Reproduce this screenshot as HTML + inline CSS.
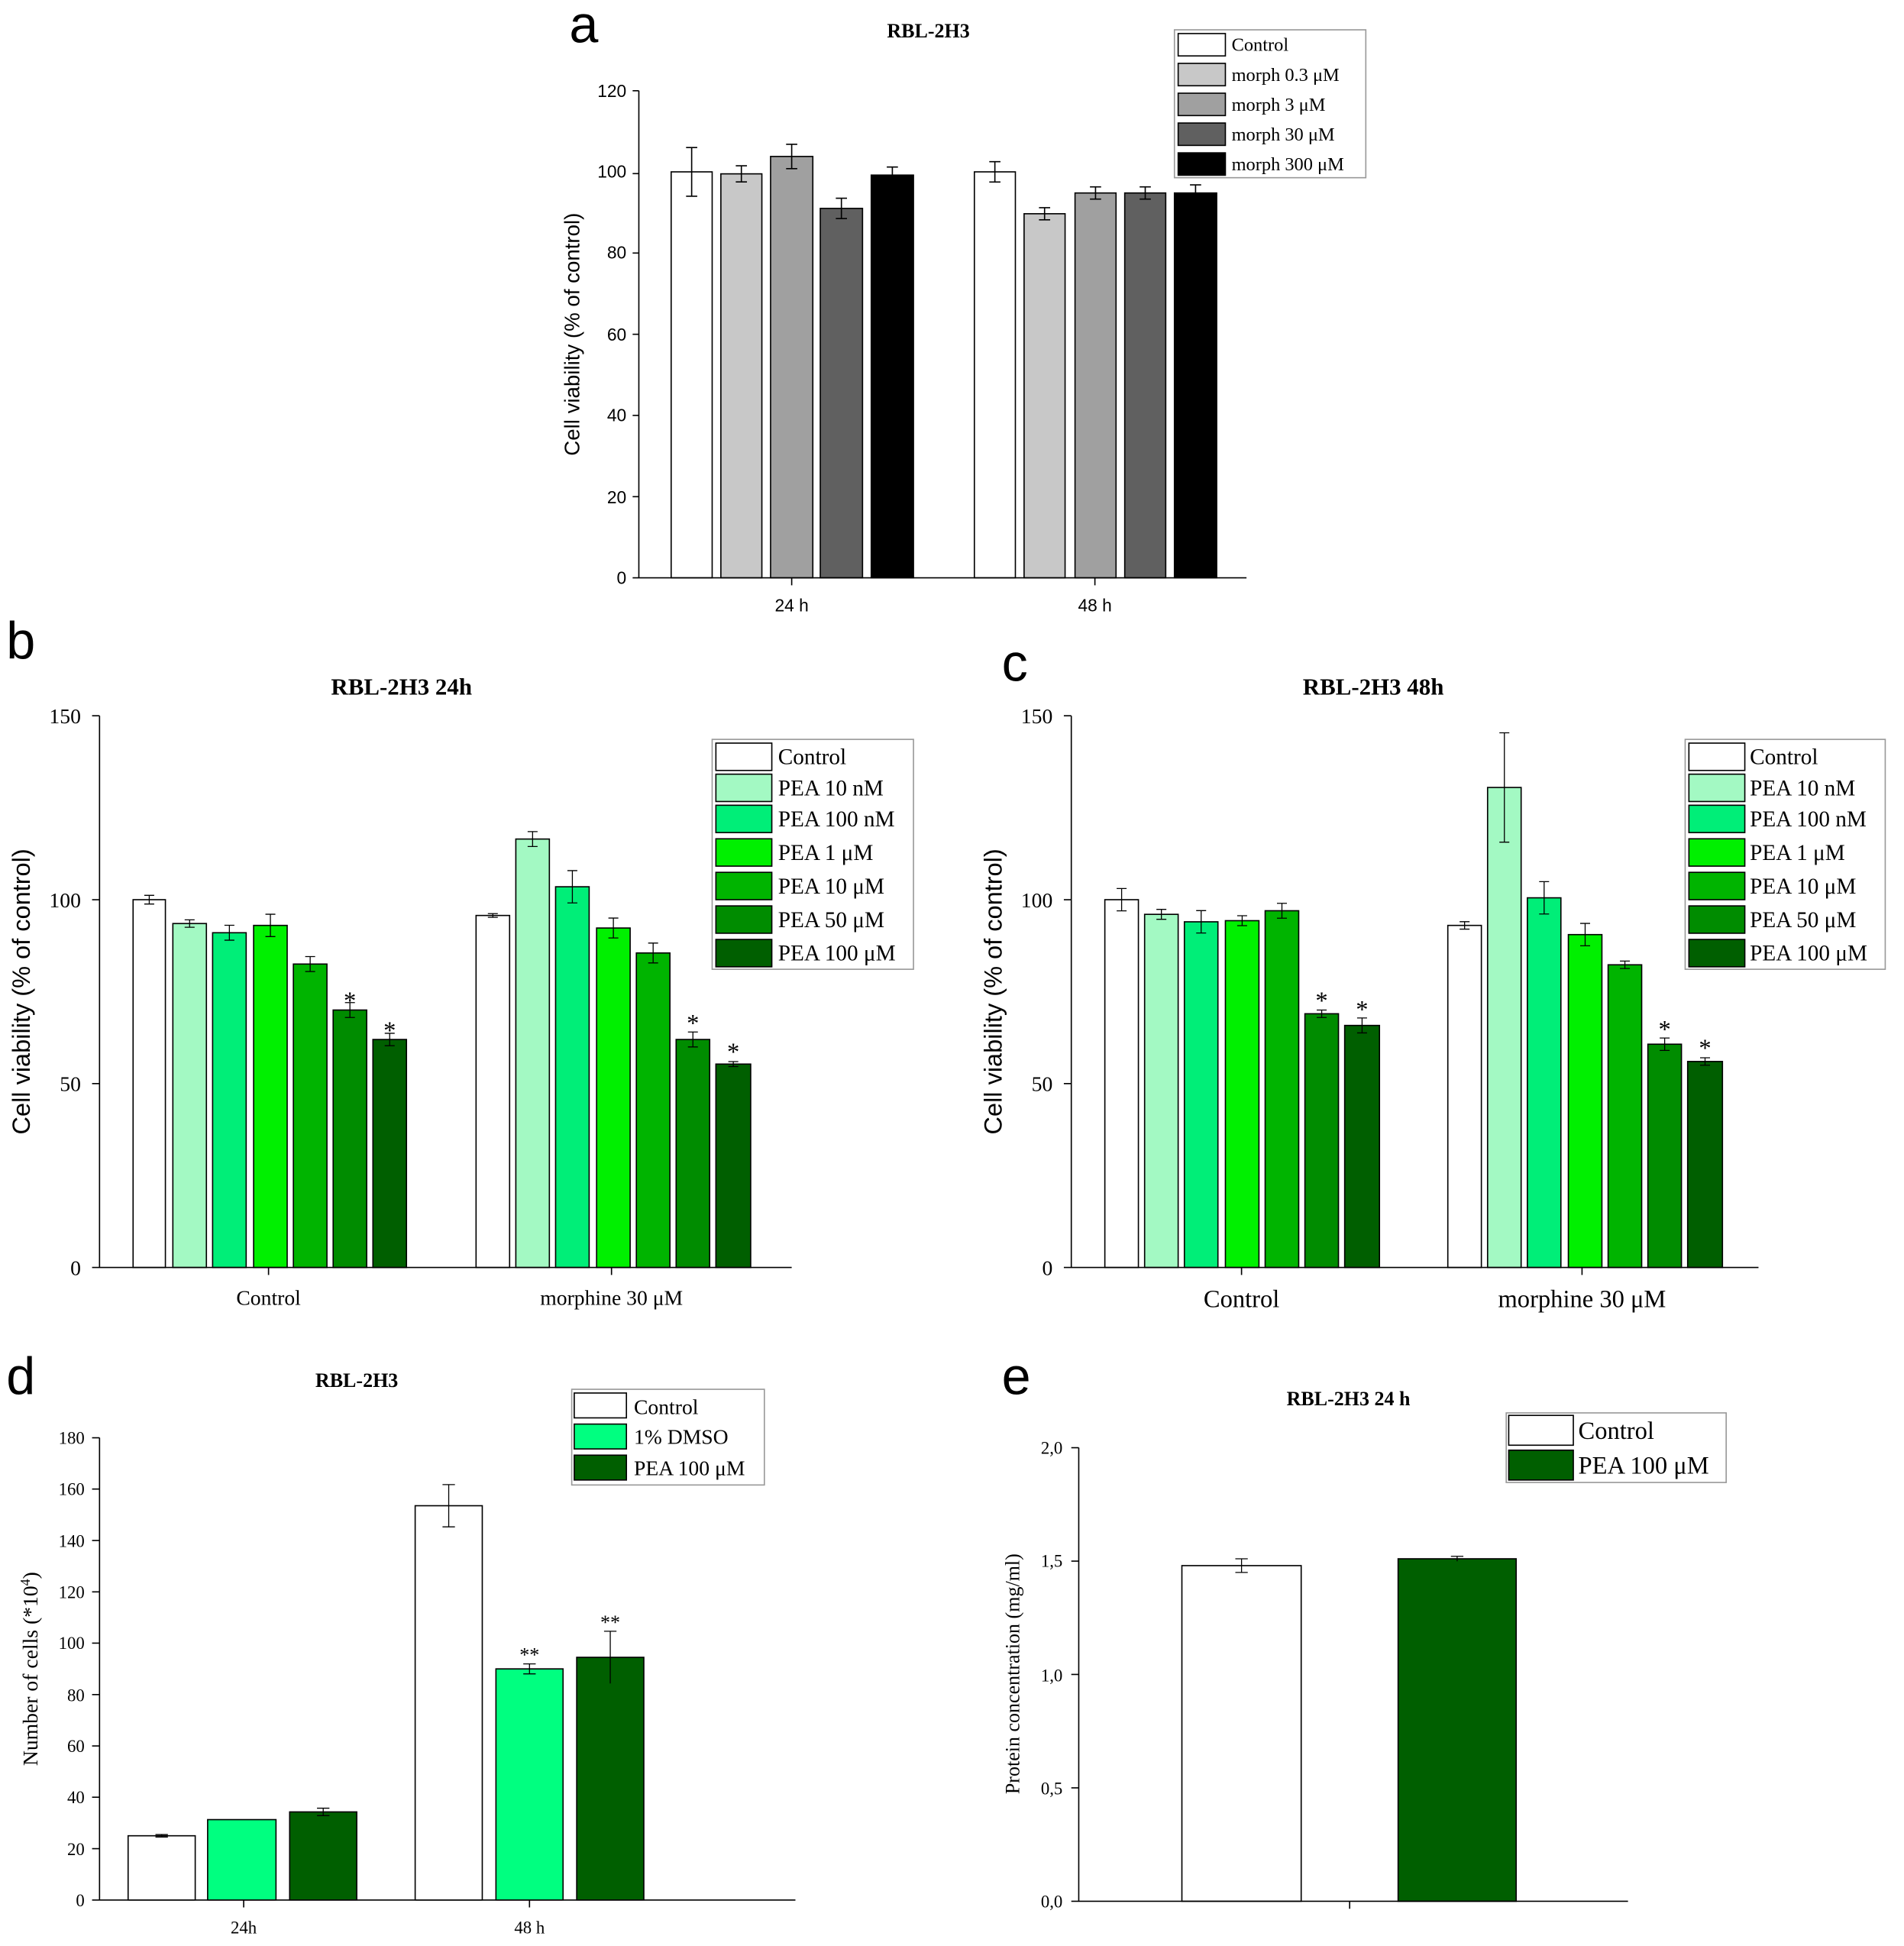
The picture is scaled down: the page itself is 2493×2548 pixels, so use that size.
<!DOCTYPE html>
<html><head><meta charset="utf-8"><style>html,body{margin:0;padding:0;background:#fff}svg{display:block}</style></head>
<body>
<svg width="2493" height="2548" viewBox="0 0 1532 1566" xmlns="http://www.w3.org/2000/svg" font-family="Liberation Serif, serif">
<rect width="1540" height="1570" fill="#fff"/>
<!-- letters -->
<g font-family="Liberation Sans, sans-serif" font-size="42">
<text x="458" y="34">a</text><text x="5" y="530">b</text><text x="806" y="548">c</text><text x="5" y="1122">d</text><text x="806" y="1122">e</text>
</g>

<!-- ===== Panel a ===== -->
<text x="747" y="30" font-size="16" font-weight="bold" text-anchor="middle">RBL-2H3</text>
<g stroke="#000" stroke-width="1">
<rect x="540" y="138.3" width="33" height="326.7" fill="#fff"/>
<rect x="580" y="139.9" width="33" height="325.1" fill="#c8c8c8"/>
<rect x="620" y="125.9" width="34" height="339.1" fill="#a0a0a0"/>
<rect x="660" y="167.7" width="34" height="297.3" fill="#606060"/>
<rect x="701" y="140.9" width="34" height="324.1" fill="#000"/>
<rect x="784" y="138.3" width="33" height="326.7" fill="#fff"/>
<rect x="824" y="172" width="33" height="293" fill="#c8c8c8"/>
<rect x="865" y="155.3" width="33" height="309.7" fill="#a0a0a0"/>
<rect x="905" y="155.3" width="33" height="309.7" fill="#606060"/>
<rect x="945" y="155.3" width="34" height="309.7" fill="#000"/>
<path fill="none" d="M556.5 118.7V157.9M552 118.7h9M552 157.9h9
M596.5 133.4V146.4M592 133.4h9M592 146.4h9
M637 116.1V135.7M632.5 116.1h9M632.5 135.7h9
M677 159.5V175.9M672.5 159.5h9M672.5 175.9h9
M718 134.4V147.4M713.5 134.4h9
M800.5 130.1V146.5M796 130.1h9M796 146.5h9
M840.5 167.1V176.9M836 167.1h9M836 176.9h9
M881.5 150.4V160.2M877 150.4h9M877 160.2h9
M921.5 150.4V160.2M917 150.4h9M917 160.2h9
M962 148.8V161.8M957.5 148.8h9"/>
<path fill="none" d="M514 73V465H1003M514 73h-5M514 139.7h-5M514 203.6h-5M514 269h-5M514 334.3h-5M514 399.7h-5M514 465h-5M637 465v6M881 465v6"/>
</g>
<g font-family="Liberation Sans, sans-serif" font-size="14" text-anchor="end">
<text x="504" y="78">120</text><text x="504" y="143">100</text><text x="504" y="208">80</text><text x="504" y="274">60</text><text x="504" y="339">40</text><text x="504" y="405">20</text><text x="504" y="470">0</text>
</g>
<g font-family="Liberation Sans, sans-serif" font-size="14" text-anchor="middle"><text x="637" y="492">24 h</text><text x="881" y="492">48 h</text></g>
<text transform="translate(466 269) rotate(-90)" font-family="Liberation Sans, sans-serif" font-size="17" text-anchor="middle">Cell viability (% of control)</text>
<rect x="945" y="24" width="154" height="119" fill="#fff" stroke="#999"/>
<g stroke="#000"><rect x="948" y="27" width="38" height="18" fill="#fff"/><rect x="948" y="51" width="38" height="18" fill="#c8c8c8"/><rect x="948" y="75" width="38" height="18" fill="#a0a0a0"/><rect x="948" y="99" width="38" height="18" fill="#606060"/><rect x="948" y="123" width="38" height="18" fill="#000"/></g>
<g font-size="15"><text x="991" y="41">Control</text><text x="991" y="65">morph 0.3 μM</text><text x="991" y="89">morph 3 μM</text><text x="991" y="113">morph 30 μM</text><text x="991" y="137">morph 300 μM</text></g>

<!-- ===== Panel b ===== -->
<text x="323" y="559" font-size="19" font-weight="bold" text-anchor="middle">RBL-2H3 24h</text>
<g stroke="#000">
<rect x="107" y="724" width="26" height="296" fill="#fff"/>
<rect x="139" y="743.2" width="27" height="276.8" fill="#a3f9c3"/>
<rect x="171" y="750.6" width="27" height="269.4" fill="#00ee78"/>
<rect x="204" y="744.7" width="27" height="275.3" fill="#00f000"/>
<rect x="236" y="775.8" width="27" height="244.2" fill="#00b400"/>
<rect x="268" y="812.8" width="27" height="207.2" fill="#008c00"/>
<rect x="300" y="836.5" width="27" height="183.5" fill="#005f00"/>
<rect x="383" y="736.7" width="27" height="283.3" fill="#fff"/>
<rect x="415" y="675.2" width="27" height="344.8" fill="#a3f9c3"/>
<rect x="447" y="713.6" width="27" height="306.4" fill="#00ee78"/>
<rect x="480" y="746.8" width="27" height="273.2" fill="#00f000"/>
<rect x="512" y="766.9" width="27" height="253.1" fill="#00b400"/>
<rect x="544" y="836.5" width="27" height="183.5" fill="#008c00"/>
<rect x="576" y="856.3" width="28" height="163.7" fill="#005f00"/>
<path fill="none" stroke-width="0.8" d="M120 720.5v7M116 720.5h8M116 727.5h8M152.5 740.2v6M148.5 740.2h8M148.5 746.2h8M184.5 744.6v12M180.5 744.6h8M180.5 756.6h8M217.5 735.7v18M213.5 735.7h8M213.5 753.7h8M249.5 769.8v12M245.5 769.8h8M245.5 781.8h8M281.5 806.8v12M277.5 806.8h8M277.5 818.8h8M313.5 831.5v10M309.5 831.5h8M309.5 841.5h8
M396.5 735.2v3M392.5 735.2h8M392.5 738.2h8M428.5 669.2v12M424.5 669.2h8M424.5 681.2h8M460.5 700.6v26M456.5 700.6h8M456.5 726.6h8M493.5 738.8v16M489.5 738.8h8M489.5 754.8h8M525.5 758.9v16M521.5 758.9h8M521.5 774.9h8M557.5 830.5v12M553.5 830.5h8M553.5 842.5h8M590 854.3v4M586 854.3h8M586 858.3h8"/>
<path fill="none" d="M80 576V1020H637M80 576h-6M80 724h-6M80 872h-6M80 1020h-6M216 1020v6M492 1020v6"/>
</g>
<g font-size="20" text-anchor="middle"><text x="281.5" y="812">*</text><text x="313.5" y="836">*</text><text x="557.5" y="830">*</text><text x="590" y="853">*</text></g>
<g font-size="17" text-anchor="end"><text x="65" y="582">150</text><text x="65" y="730">100</text><text x="65" y="878">50</text><text x="65" y="1026">0</text></g>
<g font-size="17" text-anchor="middle"><text x="216" y="1050">Control</text><text x="492" y="1050">morphine 30 μM</text></g>
<text transform="translate(24 798) rotate(-90)" font-family="Liberation Sans, sans-serif" font-size="20" text-anchor="middle">Cell viability (% of control)</text>
<rect x="573" y="595" width="162" height="185" fill="#fff" stroke="#999"/>
<g stroke="#000"><rect x="576" y="598" width="45" height="22" fill="#fff"/><rect x="576" y="623" width="45" height="22" fill="#a3f9c3"/><rect x="576" y="648" width="45" height="22" fill="#00ee78"/><rect x="576" y="675" width="45" height="22" fill="#00f000"/><rect x="576" y="702" width="45" height="22" fill="#00b400"/><rect x="576" y="729" width="45" height="22" fill="#008c00"/><rect x="576" y="756" width="45" height="22" fill="#005f00"/></g>
<g font-size="18"><text x="626" y="615">Control</text><text x="626" y="640">PEA 10 nM</text><text x="626" y="665">PEA 100 nM</text><text x="626" y="692">PEA 1 μM</text><text x="626" y="719">PEA 10 μM</text><text x="626" y="746">PEA 50 μM</text><text x="626" y="773">PEA 100 μM</text></g>

<!-- ===== Panel c ===== -->
<text x="1105" y="559" font-size="19" font-weight="bold" text-anchor="middle">RBL-2H3 48h</text>
<g stroke="#000">
<rect x="889" y="724" width="27" height="296" fill="#fff"/>
<rect x="921" y="735.8" width="27" height="284.2" fill="#a3f9c3"/>
<rect x="953" y="741.8" width="27" height="278.2" fill="#00ee78"/>
<rect x="986" y="740.9" width="27" height="279.1" fill="#00f000"/>
<rect x="1018" y="732.9" width="27" height="287.1" fill="#00b400"/>
<rect x="1050" y="815.8" width="27" height="204.2" fill="#008c00"/>
<rect x="1082" y="825.2" width="28" height="194.8" fill="#005f00"/>
<rect x="1165" y="744.7" width="27" height="275.3" fill="#fff"/>
<rect x="1197" y="633.7" width="27" height="386.3" fill="#a3f9c3"/>
<rect x="1229" y="722.5" width="27" height="297.5" fill="#00ee78"/>
<rect x="1262" y="752.1" width="27" height="267.9" fill="#00f000"/>
<rect x="1294" y="776.4" width="27" height="243.6" fill="#00b400"/>
<rect x="1326" y="840.3" width="27" height="179.7" fill="#008c00"/>
<rect x="1358" y="854.2" width="28" height="165.8" fill="#005f00"/>
<path fill="none" stroke-width="0.8" d="M902.5 715v18M898.5 715h8M898.5 733h8M934.5 731.8v8M930.5 731.8h8M930.5 739.8h8M966.5 732.8v18M962.5 732.8h8M962.5 750.8h8M999.5 736.9v8M995.5 736.9h8M995.5 744.9h8M1031.5 726.9v12M1027.5 726.9h8M1027.5 738.9h8M1063.5 812.8v6M1059.5 812.8h8M1059.5 818.8h8M1096 819.2v12M1092 819.2h8M1092 831.2h8
M1178.5 741.7v6M1174.5 741.7h8M1174.5 747.7h8M1210.5 589.7v88M1206.5 589.7h8M1206.5 677.7h8M1242.5 709.5v26M1238.5 709.5h8M1238.5 735.5h8M1275.5 743.1v18M1271.5 743.1h8M1271.5 761.1h8M1307.5 773.4v6M1303.5 773.4h8M1303.5 779.4h8M1339.5 835.3v10M1335.5 835.3h8M1335.5 845.3h8M1372 851.2v6M1368 851.2h8M1368 857.2h8"/>
<path fill="none" d="M862 576V1020H1415M862 576h-6M862 724h-6M862 872h-6M862 1020h-6M999 1020v6M1273 1020v6"/>
</g>
<g font-size="20" text-anchor="middle"><text x="1063.5" y="812">*</text><text x="1096" y="819">*</text><text x="1339.5" y="835">*</text><text x="1372" y="850">*</text></g>
<g font-size="17" text-anchor="end"><text x="847" y="582">150</text><text x="847" y="730">100</text><text x="847" y="878">50</text><text x="847" y="1026">0</text></g>
<g font-size="20" text-anchor="middle"><text x="999" y="1052">Control</text><text x="1273" y="1052">morphine 30 μM</text></g>
<text transform="translate(806 798) rotate(-90)" font-family="Liberation Sans, sans-serif" font-size="20" text-anchor="middle">Cell viability (% of control)</text>
<rect x="1356" y="595" width="161" height="185" fill="#fff" stroke="#999"/>
<g stroke="#000"><rect x="1359" y="598" width="45" height="22" fill="#fff"/><rect x="1359" y="623" width="45" height="22" fill="#a3f9c3"/><rect x="1359" y="648" width="45" height="22" fill="#00ee78"/><rect x="1359" y="675" width="45" height="22" fill="#00f000"/><rect x="1359" y="702" width="45" height="22" fill="#00b400"/><rect x="1359" y="729" width="45" height="22" fill="#008c00"/><rect x="1359" y="756" width="45" height="22" fill="#005f00"/></g>
<g font-size="18"><text x="1408" y="615">Control</text><text x="1408" y="640">PEA 10 nM</text><text x="1408" y="665">PEA 100 nM</text><text x="1408" y="692">PEA 1 μM</text><text x="1408" y="719">PEA 10 μM</text><text x="1408" y="746">PEA 50 μM</text><text x="1408" y="773">PEA 100 μM</text></g>

<!-- ===== Panel d ===== -->
<text x="287" y="1116" font-size="16" font-weight="bold" text-anchor="middle">RBL-2H3</text>
<g stroke="#000">
<rect x="103" y="1477.3" width="54" height="51.7" fill="#fff"/>
<rect x="167" y="1464.3" width="55" height="64.7" fill="#00ff80"/>
<rect x="233" y="1458.1" width="54" height="70.9" fill="#005f00"/>
<rect x="334" y="1211.7" width="54" height="317.3" fill="#fff"/>
<rect x="399" y="1343" width="54" height="186" fill="#00ff80"/>
<rect x="464" y="1333.7" width="54" height="195.3" fill="#005f00"/>
<path fill="none" stroke-width="0.8" d="M130 1476.3v2M125 1476.3h10M125 1478.3h10M260 1455.1v6M255 1455.1h10M255 1461.1h10M361 1194.7v34M356 1194.7h10M356 1228.7h10M426 1339v8M421 1339h10M421 1347h10M491 1312.7v42M486 1312.7h10"/>
<path fill="none" d="M80 1157V1529H640M80 1157h-6M80 1198.3h-6M80 1239.7h-6M80 1281h-6M80 1322.3h-6M80 1363.7h-6M80 1405h-6M80 1446.3h-6M80 1487.7h-6M80 1529h-6M196 1529v6M426 1529v6"/>
</g>
<g font-size="16" text-anchor="middle"><text x="426" y="1337">**</text><text x="491" y="1311">**</text></g>
<g font-size="14" text-anchor="end"><text x="68" y="1162">180</text><text x="68" y="1203">160</text><text x="68" y="1245">140</text><text x="68" y="1286">120</text><text x="68" y="1327">100</text><text x="68" y="1369">80</text><text x="68" y="1410">60</text><text x="68" y="1451">40</text><text x="68" y="1493">20</text><text x="68" y="1534">0</text></g>
<g font-size="14" text-anchor="middle"><text x="196" y="1556">24h</text><text x="426" y="1556">48 h</text></g>
<text transform="translate(30 1343) rotate(-90)" font-size="17" text-anchor="middle">Number of cells (*10<tspan dy="-6" font-size="11">4</tspan><tspan dy="6">)</tspan></text>
<rect x="460" y="1118" width="155" height="77" fill="#fff" stroke="#999"/>
<g stroke="#000"><rect x="462" y="1121" width="42" height="20" fill="#fff"/><rect x="462" y="1146" width="42" height="20" fill="#00ff80"/><rect x="462" y="1171" width="42" height="20" fill="#005f00"/></g>
<g font-size="17"><text x="510" y="1138">Control</text><text x="510" y="1162">1% DMSO</text><text x="510" y="1187">PEA 100 μM</text></g>

<!-- ===== Panel e ===== -->
<text x="1085" y="1131" font-size="16" font-weight="bold" text-anchor="middle">RBL-2H3 24 h</text>
<g stroke="#000">
<rect x="951" y="1259.9" width="96" height="270.1" fill="#fff"/>
<rect x="1125" y="1254.4" width="95" height="275.6" fill="#005f00"/>
<path fill="none" stroke-width="0.8" d="M999 1254.4v11M994 1254.4h10M994 1265.4h10M1172.5 1252.4v4M1167.5 1252.4h10"/>
<path fill="none" d="M868 1165V1530H1310M868 1165h-6M868 1256.25h-6M868 1347.5h-6M868 1438.75h-6M868 1530h-6M1086 1530v6"/>
</g>
<g font-size="14" text-anchor="end"><text x="855" y="1170">2,0</text><text x="855" y="1261">1,5</text><text x="855" y="1353">1,0</text><text x="855" y="1444">0,5</text><text x="855" y="1535">0,0</text></g>
<text transform="translate(820 1347) rotate(-90)" font-size="16" text-anchor="middle">Protein concentration (mg/ml)</text>
<rect x="1212" y="1137" width="177" height="56" fill="#fff" stroke="#999"/>
<g stroke="#000"><rect x="1214" y="1139" width="52" height="24" fill="#fff"/><rect x="1214" y="1167" width="52" height="24" fill="#005f00"/></g>
<g font-size="20"><text x="1270" y="1158">Control</text><text x="1270" y="1186">PEA 100 μM</text></g>
</svg>
</body></html>
